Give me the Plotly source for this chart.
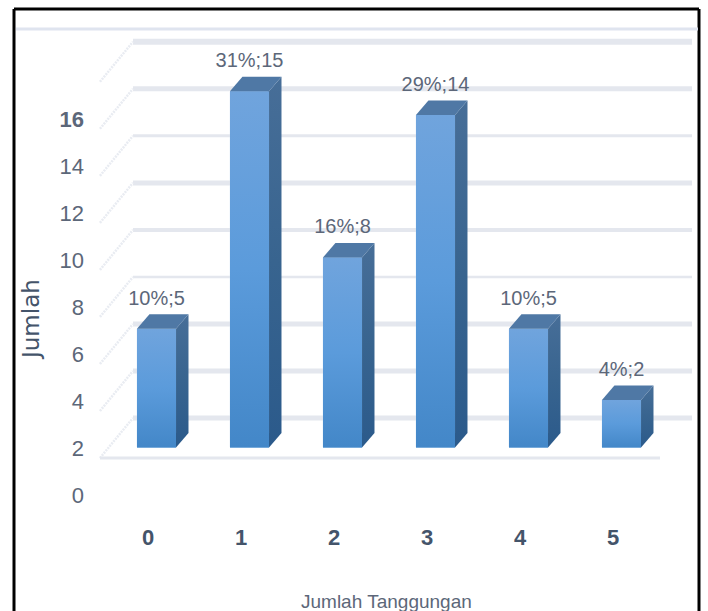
import plotly.graph_objects as go

CATEGORIES = ["0", "1", "2", "3", "4", "5"]
VALUES = [5, 15, 8, 14, 5, 2]
PERCENTS = ["10%", "31%", "16%", "29%", "10%", "4%"]
Y_TICKS = [0, 2, 4, 6, 8, 10, 12, 14, 16]
GRID_TICKS = [2, 4, 6, 8, 10, 12, 14, 16, 18]
GRID_WIDTHS = [5, 5, 5, 2.5, 4, 5, 3, 5, 6]
BASE = 2

W, H = 708, 611
L, R, T, B = 88, 708, 0, 520
# axis calibration: pixel = 156.5 + 93*x ; pixel = 495 - 23.75*y
XR = [(L - 156.5) / 93, (R - 156.5) / 93]
YR = [(495 - B) / 23.75, (495 - T) / 23.75]
BAR_W = 0.42
DX, DY = 0.134, 0.61
WALL_DX, WALL_DY = 0.355, 1.684
TICK_SCALE = 0.99   # the reference's axis labels and grid run slightly tighter than its bars
WALL_SHIFT = 1.262
LEFT_BACK, RIGHT_BACK = -0.253, 5.758
RIGHT_FRONT = 5.414
GRID_COL = "#E4E7EE"
TXT = "#5C6779"
FONT = "Liberation Sans, Arial, sans-serif"

xs = list(range(len(CATEGORIES)))
tops = [BASE + v for v in VALUES]
fig = go.Figure()

# back wall grid and left wall
for g, w in zip(GRID_TICKS, GRID_WIDTHS):
    yb = g * TICK_SCALE + WALL_SHIFT
    fig.add_trace(go.Scatter(x=[LEFT_BACK, RIGHT_BACK], y=[yb, yb], mode="lines",
                             line=dict(color=GRID_COL, width=w), hoverinfo="skip", showlegend=False))
    fig.add_trace(go.Scatter(x=[LEFT_BACK - WALL_DX, LEFT_BACK], y=[yb - WALL_DY, yb], mode="lines",
                             line=dict(color="#E9ECF2", width=2.5, dash="2px,1px"), hoverinfo="skip", showlegend=False))
# floor front edge
floor_y = GRID_TICKS[0] * TICK_SCALE + WALL_SHIFT - WALL_DY
fig.add_trace(go.Scatter(x=[LEFT_BACK - WALL_DX, RIGHT_FRONT], y=[floor_y, floor_y], mode="lines",
                         line=dict(color=GRID_COL, width=3), hoverinfo="skip", showlegend=False))

# front faces
fig.add_trace(go.Bar(x=xs, y=VALUES, base=BASE, width=BAR_W, marker=dict(color="#5B9BDB", line=dict(width=0)),
                     showlegend=False, hoverinfo="skip"))

def grad(colors):
    n = len(colors) - 1
    return dict(type="vertical", colorscale=[[i / n, c] for i, c in enumerate(colors)])

for x, t in zip(xs, tops):
    l, r = x - BAR_W / 2, x + BAR_W / 2
    # front gradient
    fig.add_trace(go.Scatter(x=[l, r, r, l, l], y=[BASE, BASE, t, t, BASE], mode="none", fill="toself",
                             fillgradient=grad(["#4387C8", "#5B9BDB", "#70A4DD"]),
                             hoverinfo="skip", showlegend=False))
    # side face
    fig.add_trace(go.Scatter(x=[r, r + DX, r + DX, r, r], y=[BASE, BASE + DY, t + DY, t, BASE], mode="none", fill="toself",
                             fillgradient=grad(["#2B5A8B", "#38648F", "#476E98"]),
                             hoverinfo="skip", showlegend=False))
    # top face
    fig.add_trace(go.Scatter(x=[l, r, r + DX, l + DX, l], y=[t, t, t + DY, t + DY, t], mode="lines", fill="toself",
                             fillcolor="#4F78A5", line=dict(width=0), hoverinfo="skip", showlegend=False))

# data labels
fig.add_trace(go.Scatter(x=xs, y=[t + DY + 0.2 for t in tops], mode="text",
                         text=[f"{p};{v}" for p, v in zip(PERCENTS, VALUES)],
                         textposition="top center", textfont=dict(family=FONT, size=20, color=TXT),
                         hoverinfo="skip", showlegend=False))

px = lambda p: (p - L) / (R - L)
py = lambda p: 1 - (p - T) / (B - T)
frame = dict(type="line", xref="paper", yref="paper", line=dict(color="black", width=3))
shapes = [
    dict(frame, x0=px(14), x1=px(14), y0=py(9), y1=py(611)),
    dict(frame, x0=px(14), x1=px(699), y0=py(9), y1=py(9)),
    dict(frame, x0=px(699), x1=px(699), y0=py(9), y1=py(611)),
    dict(type="line", xref="paper", yref="paper", x0=px(16), x1=px(698), y0=py(29), y1=py(29),
         line=dict(color="#DFE4EF", width=3)),
]

fig.update_layout(
    width=W, height=H, margin=dict(l=L, r=W - R, t=T, b=H - B), autosize=False,
    paper_bgcolor="white", plot_bgcolor="white", barmode="overlay", shapes=shapes,
    font=dict(family=FONT, size=22, color=TXT),
    xaxis=dict(range=XR, tickmode="array", tickvals=[x - 0.09 for x in xs],
               ticktext=[f"<b>{c}</b>" for c in CATEGORIES], showgrid=False, zeroline=False, showline=False,
               ticks="", ticklabelstandoff=2, tickfont=dict(family=FONT, size=22, color="#44546A")),
    yaxis=dict(range=YR, tickmode="array", tickvals=[t * TICK_SCALE for t in Y_TICKS],
               ticktext=[f"<b>{t}</b>" if t == 16 else str(t) for t in Y_TICKS],
               showgrid=False, zeroline=False, showline=False, ticks="", ticklabelstandoff=3,
               tickfont=dict(family=FONT, size=22, color=TXT)),
    annotations=[
        dict(text="Jumlah Tanggungan", xref="paper", yref="paper", x=px(386), y=py(601),
             xanchor="center", yanchor="middle", showarrow=False, font=dict(family=FONT, size=19, color=TXT)),
        dict(text="Jumlah", xref="paper", yref="paper", x=px(31), y=py(320), textangle=-90,
             xanchor="center", yanchor="middle", showarrow=False, font=dict(family="DejaVu Sans", size=23, color="#44546A")),
    ],
)
fig.write_html("out.html", post_script="document.body.style.margin='0';", config={"displayModeBar": False})
